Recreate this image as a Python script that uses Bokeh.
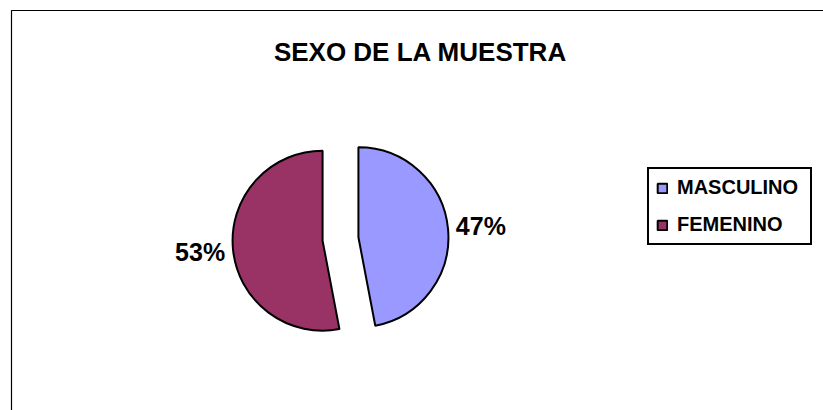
import math
from bokeh.plotting import figure
from bokeh.models import ColumnDataSource, Range1d, Legend, LegendItem, Label, BoxAnnotation
from bokeh.core.properties import value
from bokeh.embed import file_html
from bokeh.resources import INLINE

# ---- data ----
categories = ["MASCULINO", "FEMENINO"]
percentages = [47, 53]
colors = ["#9999FF", "#993366"]
title_text = "SEXO DE LA MUESTRA"

# ---- layout constants (pixel-like data coordinates, y up) ----
W, H = 823, 410
CX, CY = 340, 171.5      # pie centre
R = 90
EXPLODE = 18
LABEL_R = 141
FONT = "Liberation Sans"

total = sum(percentages)
starts, ends, xs, ys, lx, ly, labels = [], [], [], [], [], [], []
cum = 0.0
for v in percentages:
    a0 = math.pi / 2 - 2 * math.pi * cum / total          # clockwise from 12 o'clock
    a1 = math.pi / 2 - 2 * math.pi * (cum + v) / total
    cum += v
    mid = (a0 + a1) / 2
    starts.append(a1)
    ends.append(a0)
    xs.append(CX + EXPLODE * math.cos(mid))
    ys.append(CY + EXPLODE * math.sin(mid))
    lx.append(CX + LABEL_R * math.cos(mid))
    ly.append(CY + LABEL_R * math.sin(mid))
    labels.append(f"{round(100 * v / total)}%")

src = ColumnDataSource(dict(x=xs, y=ys, start=starts, end=ends, color=colors,
                            cat=categories, lx=lx, ly=ly, label=labels))

p = figure(width=W, height=H, x_range=Range1d(0, W), y_range=Range1d(0, H),
           output_backend="svg", toolbar_location=None, min_border=0)
p.axis.visible = False
p.grid.visible = False
p.outline_line_color = None
p.background_fill_color = "white"
p.border_fill_color = "white"

# chart area frame (only top & left visible in window)
p.add_layout(BoxAnnotation(left=11, right=3000, bottom=-3000, top=400,
                           fill_alpha=0, line_color="black", line_alpha=1,
                           line_width=1.2))

r = p.wedge(x="x", y="y", radius=R, start_angle="start", end_angle="end",
            direction="anticlock", fill_color="color", line_color="black",
            line_width=2, source=src)

p.text(x="lx", y="ly", text="label", source=src, text_align="center",
       text_baseline="middle", text_font=value(FONT), text_font_style="bold",
       text_font_size="25px", text_color="black")

p.add_layout(Label(x=420, y=359, text=title_text, text_align="center",
                   text_baseline="middle", text_font=FONT, text_font_style="bold",
                   text_font_size="26px", text_color="black"))

items = [LegendItem(label=c, renderers=[r], index=i) for i, c in enumerate(categories)]
legend = Legend(items=items, location=(647, 165), orientation="vertical",
                label_text_font=FONT, label_text_font_style="bold",
                label_text_color="black",
                label_text_font_size="20px", label_height=20, label_width=126,
                glyph_width=12, glyph_height=12, label_standoff=9, spacing=14,
                padding=7, margin=0, border_line_color="black",
                border_line_alpha=1, border_line_width=2,
                background_fill_color="white", background_fill_alpha=1)
p.add_layout(legend, "center")

open("out.html", "w").write(file_html(p, INLINE))
